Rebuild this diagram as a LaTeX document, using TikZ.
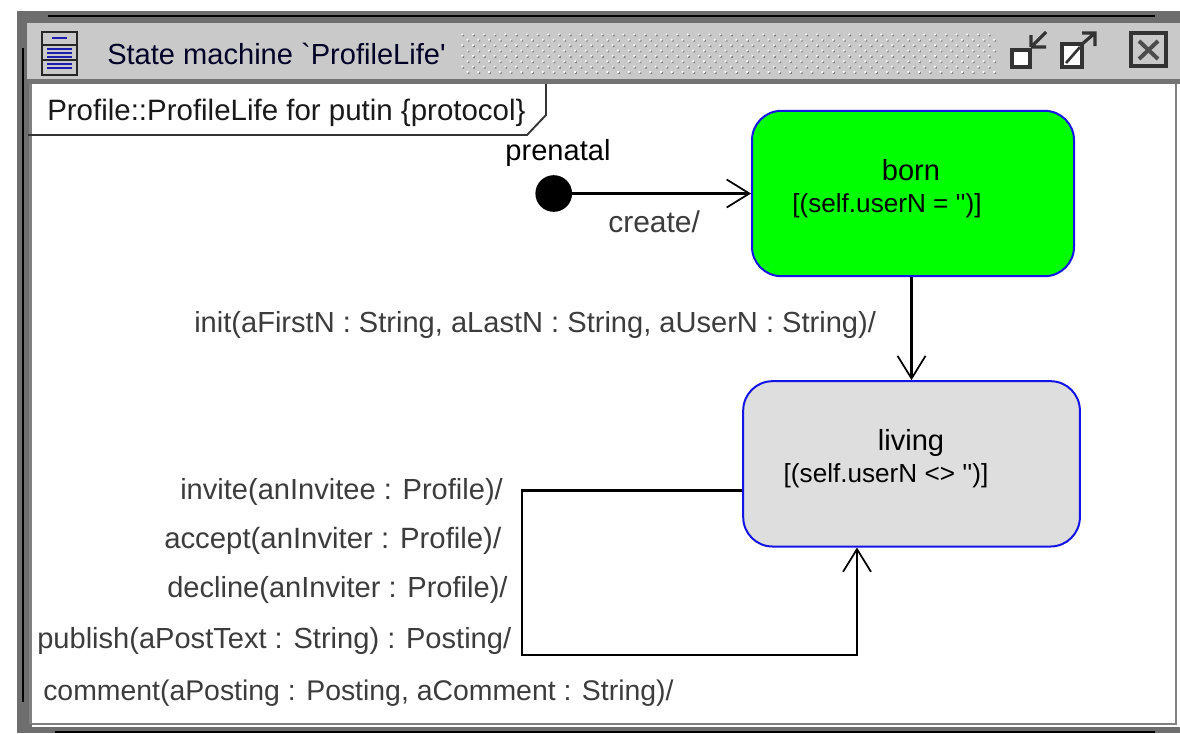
\documentclass[tikz,border=0pt]{standalone}
\usepackage{fontspec}
\setmainfont{Liberation Sans}
\usetikzlibrary{positioning,arrows.meta,patterns.meta}
\definecolor{barGrey}{HTML}{C9C9C9}
\definecolor{frameGrey}{HTML}{6E6E6E}
\definecolor{labelGrey}{HTML}{3C3C3C}
\definecolor{stateBlue}{HTML}{1414E6}
\definecolor{iconBlue}{HTML}{1C1CB0}

\begin{document}
\begin{tikzpicture}[
	x=0.75pt, y=-0.75pt,
	statenode/.style={rectangle, rounded corners=22pt, draw=stateBlue, line width=1.5pt, inner sep=0pt},
	pseudonode/.style={circle, fill=black, inner sep=0pt, minimum size=27.5pt},
	labelnode/.style={inner sep=0pt, anchor=west, text=labelGrey, font=\fontsize{#1}{24}\selectfont},
	labelnode/.default=21.8,
	guardnode/.style={inner sep=0pt, font=\fontsize{19.6}{22}\selectfont},
	namenode/.style={inner sep=0pt, font=\fontsize{21.8}{24}\selectfont},
	trans/.style={-{Straight Barb[length=17pt,width=21pt,line width=1.3pt]}, line width=1.6pt},
	iconline/.style={line width=1.8pt, black!85},
	node distance=77.25pt
	]
	\useasboundingbox (0,0) rectangle (1180,733);
	%Window
	\fill[frameGrey] (17,11) rectangle (1180,24);
	\fill[frameGrey] (17,11) rectangle (32,733);
	\fill[frameGrey] (32,727) rectangle (1180,733);
	\draw[line width=2pt, black] (48,16) -- (1155,16);
	\draw[line width=2.2pt, black] (23,48) -- (23,702);
	\draw[line width=2pt, black] (55,732) -- (1155,732);
	\fill[barGrey] (27,23) rectangle (1180,79);
	\fill[black!55] (27,79) rectangle (1180,84);
	\fill[white] (32,84) rectangle (1174,722);
	\draw[black!50, line width=1.6pt] (1176,84) -- (1176,724) -- (32,724);
	\fill[black!50] (29,84) rectangle (32,724);
	% Stipple
	\fill[pattern={Dots[distance=5.7pt,radius=0.9pt,angle=45,xshift=0.8pt,yshift=-0.8pt]}, pattern color=black!50] (460,31) rectangle (996,75);
	\fill[pattern={Dots[distance=5.7pt,radius=0.9pt,angle=45]}, pattern color=white] (460,31) rectangle (996,75);
	%Title
	\node[labelnode, text=black!85!blue] (Title) at (107,54) {State machine \textasciigrave ProfileLife\textquotesingle};
	\draw[iconline] (42,32) rectangle (77,75);
	\draw[iconline] (42,45) -- (77,45) (42,60) -- (77,60);
	\draw[iconBlue, line width=1.3pt] (52,38) -- (67,38) (47,49) -- (72,49) (47,53) -- (72,53) (47,57) -- (72,57) (47,64) -- (72,64) (47,68) -- (72,68);
	% Buttons
	\draw[line width=3pt, black!80, fill=white] (1012,50) rectangle (1030,67);
	\draw[line width=2.4pt, black!80] (1031,47) -- (1031,35) (1031,47) -- (1046,47) (1033,45) -- (1046,32);
	\draw[line width=3pt, black!80, fill=white] (1062,44) rectangle (1082,67);
	\draw[line width=2pt, black!80] (1066,63) -- (1080,47);
	\draw[line width=2.4pt, black!80] (1082,33) -- (1095,33) -- (1095,46) (1081,45) -- (1095,33);
	\draw[line width=3pt, black!80] (1131,33) rectangle (1166,66);
	\draw[line width=3pt, black!70] (1139,41) -- (1158,59) (1158,41) -- (1139,59);
	% Tab
	\draw[line width=1.4pt, black!80] (28,135) -- (527,135) -- (546,115) -- (546,84);
	\node[labelnode=22.1, text=black!90] (Tab) at (47,113) {Profile::ProfileLife for putin \{protocol\}};
	%Nodes
	\node[statenode, fill=green, minimum width=241.5pt, minimum height=124pt] (Born) at (913,193.5) {};
	\node[statenode, fill=black!13, minimum width=252.5pt, minimum height=124pt, below=of Born, xshift=-1.1pt] (Living) {};
	\node[pseudonode, left=134pt of Born] (Prenatal) {};
	\node[namenode] (PrenatalName) at (558,153) {prenatal};
	\node[namenode] (BornName) at (911,170) {born};
	\node[guardnode] (BornGuard) at (887,206) {[(self.userN = \textquotesingle\textquotesingle)]};
	\node[namenode] (LivingName) at (911,443) {living};
	\node[guardnode] (LivingGuard) at (886,476) {[(self.userN <> \textquotesingle\textquotesingle)]};
	\node[labelnode=22.5] (Create) at (608,222) {create/};
	\node[labelnode] (Init) at (194,325) {init(aFirstN : String, aLastN : String, aUserN : String)/};
	\node[labelnode] (Invite) at (180,492) {invite(anInvitee : Profile)/};
	\node[labelnode=22] (Accept) at (164,541) {accept(anInviter : Profile)/};
	\node[labelnode] (Decline) at (167,590) {decline(anInviter : Profile)/};
	\node[labelnode] (Publish) at (37,641) {publish(aPostText : String) : Posting/};
	\node[labelnode=21.3] (Comment) at (43,693) {comment(aPosting : Posting, aComment : String)/};
	\coordinate (LoopCorner) at (522,655);
	%Lines
	\draw[trans] (Prenatal) -- (Born);
	\draw[trans] (Living.north |- Born.south) -- (Living);
	\draw[trans] ([yshift=-20pt]Living.west) -| (LoopCorner) -| ([xshift=-40.9pt]Living.south);
\end{tikzpicture}
\end{document}
